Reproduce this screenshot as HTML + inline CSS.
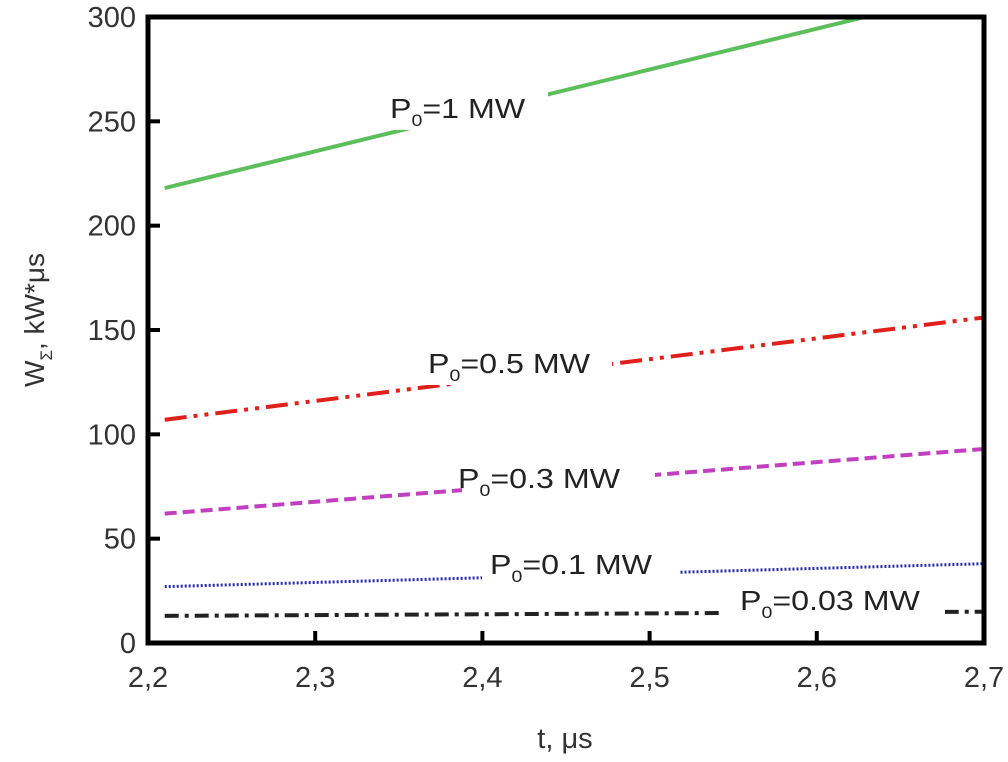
<!DOCTYPE html>
<html><head><meta charset="utf-8"><style>
body{margin:0;background:#fff;}
svg{display:block;font-family:"Liberation Sans",Arial,sans-serif;}
</style></head><body>
<svg id="chart" width="1008" height="762" viewBox="0 0 1008 762" xmlns="http://www.w3.org/2000/svg"></svg>
<script>
const xTicks=[2.2,2.3,2.4,2.5,2.6,2.7];
const xTickLabels=["2,2","2,3","2,4","2,5","2,6","2,7"];
const yTicks=[0,50,100,150,200,250,300];
const tPoints=[2.21,2.7];
const seriesNames=["P0=1 MW","P0=0.5 MW","P0=0.3 MW","P0=0.1 MW","P0=0.03 MW"];
const s1=[218,314];
const s05=[107,156];
const s03=[62,93];
const s01=[27,38];
const s003=[13,15];
const NS="http://www.w3.org/2000/svg";
const svg=document.getElementById('chart');
const L=148,R=984,T=17,B=643;
const xs=v=>L+(v-2.2)/0.5*(R-L);
const ys=v=>B-v/300*(B-T);
function el(tag,attrs,parent){const e=document.createElementNS(NS,tag);for(const k in attrs)e.setAttribute(k,attrs[k]);(parent||svg).appendChild(e);return e;}
const defs=el('defs',{});
const cp=el('clipPath',{id:'clip'},defs);el('rect',{x:L,y:T,width:R-L,height:B-T},cp);
const g=el('g',{'clip-path':'url(#clip)'});
const styles=[
 {c:'#5cbf5c',w:4,d:'',name:'series-1mw'},
 {c:'#e0201a',w:4,d:'22 7 4 7 4 7',name:'series-05mw'},
 {c:'#c040c0',w:4,d:'12 6',name:'series-03mw'},
 {c:'#2a2aa0',w:3,d:'2 2',name:'series-01mw'},
 {c:'#222',w:4,d:'14 6 4 6',name:'series-003mw'}];
[s1,s05,s03,s01,s003].forEach((s,i)=>{
 const st=styles[i];
 const p=el('line',{x1:xs(tPoints[0]),y1:ys(s[0]),x2:xs(tPoints[1]),y2:ys(s[1]),stroke:st.c,'stroke-width':st.w,'stroke-dasharray':st.d},g);
 
 
});
const labels=[[390,118,'1 MW',383,548],[428,373,'0.5 MW',412,612],[458,488,'0.3 MW',462,655],[490,574,'0.1 MW',482,680],[740,610,'0.03 MW',722,945]];
labels.forEach((l,i)=>{
 el('rect',{x:l[3],y:l[1]-34,width:l[4]-l[3],height:46,fill:'#fff'});
 const t=el('text',{x:0,y:0,'font-size':28,fill:'#222',transform:`translate(${l[0]},${l[1]}) scale(1.15,1)`});
 
 
 t.innerHTML='P<tspan font-size="17" dy="8">0</tspan><tspan dy="-8">='+l[2]+'</tspan>';
});
const f=el('rect',{x:L,y:T,width:R-L,height:B-T,fill:'none',stroke:'#000','stroke-width':5});

xTicks.forEach((v,i)=>{
 el('line',{x1:xs(v),y1:B,x2:xs(v),y2:B-12,stroke:'#000','stroke-width':4});
 const t=el('text',{x:xs(v),y:B+44,'font-size':29,'text-anchor':'middle',fill:'#333'});
 
 t.textContent=xTickLabels[i];
});
yTicks.forEach(v=>{
 el('line',{x1:L,y1:ys(v),x2:L+12,y2:ys(v),stroke:'#000','stroke-width':4});
 const t=el('text',{x:L-12,y:ys(v)+10,'font-size':29,'text-anchor':'end',fill:'#333'});
 
 t.textContent=v;
});
const xt=el('text',{x:565,y:748,'font-size':29,'text-anchor':'middle',fill:'#333'});

xt.textContent='t, μs';
const yt=el('text',{x:0,y:0,'font-size':28,'text-anchor':'middle',fill:'#333',transform:'translate(44,320) rotate(-90)'});

yt.innerHTML='W<tspan font-size="17" dy="8">Σ</tspan><tspan dy="-8">, kW*μs</tspan>';
</script>
</body></html>
